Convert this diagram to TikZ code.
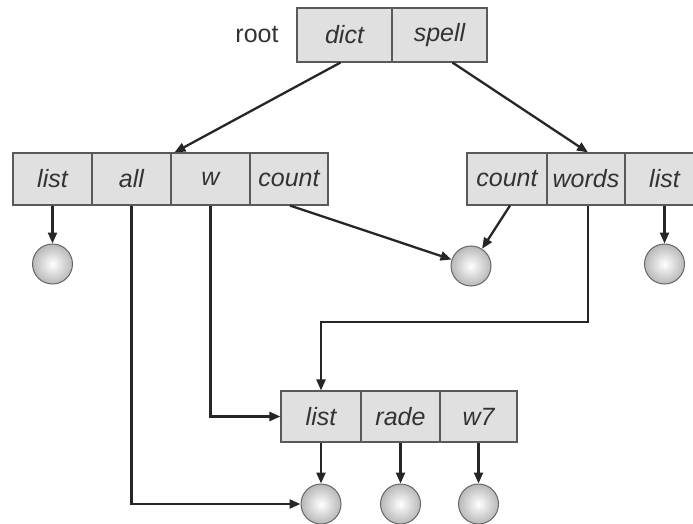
\documentclass[tikz,border=0pt]{standalone}
\usepackage{fontspec}
\setmainfont{Liberation Sans}
\usetikzlibrary{arrows.meta,calc}
\begin{document}
\begin{tikzpicture}[x=1pt,y=-1pt,
  cell/.style={draw=black!65,line width=1.1pt,fill=black!12,rectangle,inner sep=0pt,
    minimum height=52pt,font=\fontsize{25}{28}\selectfont\itshape,text=black!80},
  ball/.style={circle,draw=black!60,line width=1pt,inner sep=0pt,minimum size=40pt,
    inner color=white,outer color=black!28},
  arr/.style={draw=black!85,line width=2.3pt,-{Triangle[length=11pt,width=9pt]}}]
\useasboundingbox (0,0) rectangle (693,524);
% top box
\node[cell,minimum width=95pt,minimum height=54pt] (dict) at (344.5,35) {dict};
\node[cell,minimum width=95pt,minimum height=54pt] (spell) at (439.5,35) {spell};
\node[font=\fontsize{25}{28}\selectfont,text=black!80] (root) at (257,35) {root};
% left box
\node[cell,minimum width=79pt] (llist) at (52.5,179) {list};
\node[cell,minimum width=79pt] (lall) at (131.5,179) {all};
\node[cell,minimum width=79pt] (lw) at (210.5,179) {w};
\node[cell,minimum width=78pt] (lcount) at (289,179) {count};
% right box
\node[cell,minimum width=80pt] (rcount) at (507,179) {count};
\node[cell,minimum width=78pt] (rwords) at (586,179) {words};
\node[cell,minimum width=79pt] (rlist) at (664.5,179) {list};
% bottom box
\node[cell,minimum width=80pt,minimum height=51pt] (blist) at (321,416.5) {list};
\node[cell,minimum width=79pt,minimum height=51pt] (brade) at (400.5,416.5) {rade};
\node[cell,minimum width=77pt,minimum height=51pt] (bw7) at (478.5,416.5) {w7};
% balls
\node[ball] (c1) at (52.5,264) {};
\node[ball] (c2) at (471,266) {};
\node[ball] (c3) at (664.5,264) {};
\node[ball] (c4) at (321,504) {};
\node[ball] (c5) at (400.5,504) {};
\node[ball] (c6) at (478.5,504) {};
\coordinate (bend) at (588,322);
% connectors
\draw[arr] ([xshift=-4pt]dict.south) -- ([xshift=4pt]lw.north west);
\draw[arr] ([xshift=13pt]spell.south) -- ([xshift=2pt]rwords.north);
\draw[arr] (llist.south) -- (c1.north);
\draw[arr] (rlist.south) -- (c3.north);
\draw[arr] ([xshift=1pt]lcount.south) -- (c2);
\draw[arr] ([xshift=3pt]rcount.south) -- (c2);
\draw[arr] (lall.south) |- (c4.west);
\draw[arr] (lw.south) |- (blist.west);
\draw[arr] ([xshift=2pt]rwords.south) -- (bend) -| (blist.north);
\draw[arr] (blist.south) -- (c4.north);
\draw[arr] (brade.south) -- (c5.north);
\draw[arr] (bw7.south) -- (c6.north);
\end{tikzpicture}
\end{document}
